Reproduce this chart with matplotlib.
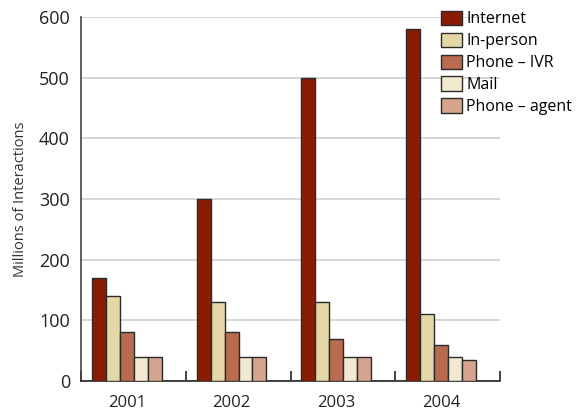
import matplotlib
matplotlib.use("Agg")
import matplotlib.pyplot as plt
import numpy as np
from matplotlib.patches import Patch

plt.rcParams['font.family'] = ['Open Sans', 'DejaVu Sans']

years = ["2001", "2002", "2003", "2004"]
series = ["Internet", "In-person", "Phone \u2013 IVR", "Mail", "Phone \u2013 agent"]
internet = [170, 300, 500, 580]
in_person = [140, 130, 130, 110]
phone_ivr = [80, 80, 70, 60]
mail = [40, 40, 40, 40]
phone_agent = [40, 40, 40, 35]
values = [internet, in_person, phone_ivr, mail, phone_agent]
colors = ["#8A1C02", "#E6D7A7", "#B86B4F", "#F3E8D2", "#D6A38F"]
yticks = [0, 100, 200, 300, 400, 500, 600]

fig = plt.figure(figsize=(5.86, 4.12), dpi=100)
ax = fig.add_axes([81/586, 31/412, 419/586, 364/412])

x = np.arange(len(years))
bw = 0.133
start = -0.395
for k, (vals, c) in enumerate(zip(values, colors)):
    ax.bar(x + start + k*bw, vals, width=bw, align='edge', color=c,
           edgecolor='#2b2b2b', linewidth=1.0, zorder=3)

ax.set_xlim(-0.5, len(years) - 0.5)
ax.set_ylim(0, 600)
ax.set_yticks(yticks)
ax.set_yticklabels([str(v) for v in yticks], fontsize=13, color='#222222')
ax.tick_params(axis='y', length=0, pad=8)
ax.set_xticks(x + start + 2.5*bw)
ax.set_xticklabels(years, fontsize=12, color='#222222')
ax.tick_params(axis='x', length=0, pad=10)
ax.set_xticks(np.arange(len(years) + 1) - 0.5, minor=True)
ax.tick_params(axis='x', which='minor', direction='in', length=7, width=1.2, color='#222222')

ax.grid(axis='y', color='#d0d0d0', linewidth=1.2, zorder=0)
for s in ['top', 'right']:
    ax.spines[s].set_visible(False)
ax.spines['left'].set_color('#444444')
ax.spines['left'].set_linewidth(1.2)
ax.spines['bottom'].set_color('#222222')
ax.spines['bottom'].set_linewidth(1.2)

ax.set_ylabel("Millions of Interactions", fontsize=10.5, color='#333333', labelpad=8)

handles = [Patch(facecolor=c, edgecolor='#2b2b2b', linewidth=1.0) for c in colors]
fig.legend(handles, series, loc='upper left', bbox_to_anchor=(436/586, 1 - 6/412),
           frameon=False, fontsize=11.5, handlelength=1.35, handleheight=1.0,
           handletextpad=0.25, labelspacing=0.33, borderaxespad=0, borderpad=0.3)

fig.savefig("out.png", dpi=100)
